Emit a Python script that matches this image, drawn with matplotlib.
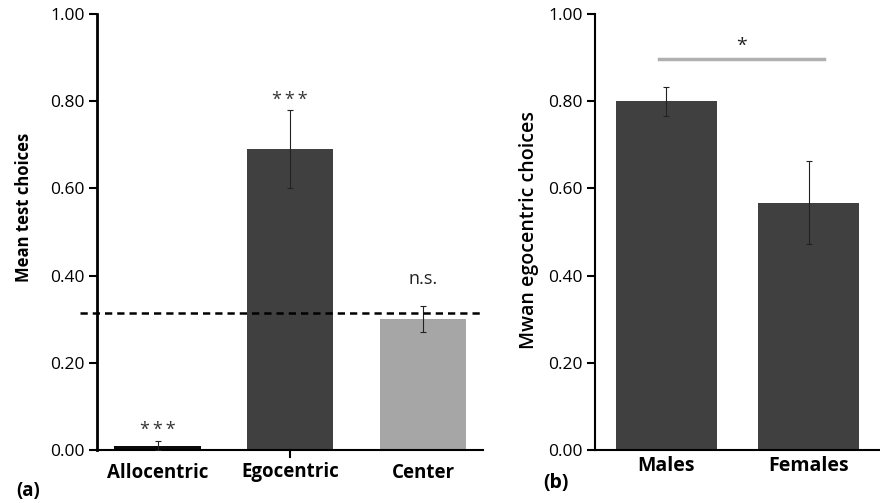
import numpy as np
import matplotlib.pyplot as plt

plt.rcParams['font.family'] = ['Open Sans', 'DejaVu Sans']

# panel (a)
cats_a = ['Allocentric', 'Egocentric', 'Center']
means_a = [0.01, 0.69, 0.30]
err_lo_a = [0.01, 0.09, 0.03]
err_hi_a = [0.01, 0.09, 0.03]
colors_a = ['#0a0a0a', '#404040', '#a6a6a6']
sig_a = ['***', '***', 'n.s.']
sig_a_pos = [0.053, 0.81, 0.392]
chance = 0.315

# panel (b)
cats_b = ['Males', 'Females']
means_b = [0.80, 0.567]
err_b = [0.033, 0.095]
sig_b = '*'
sig_b_level = 0.897

fig = plt.figure(figsize=(8.8, 5.03), dpi=100)
ticks_y = np.arange(0, 1.01, 0.2)

# ---- (a)
ax1 = fig.add_axes([97/880, 53/503, 386/880, 436/503])
x = np.arange(len(cats_a))
ax1.bar(x, means_a, 0.65, color=colors_a, zorder=2)
ax1.errorbar(x, means_a, yerr=[err_lo_a, err_hi_a], fmt='none', ecolor='#222222',
             elinewidth=0.8, capsize=2, capthick=0.8, zorder=3)
ax1.axhline(chance, xmin=-0.045, xmax=1.0, color='black', lw=1.8, ls=(0, (2.9, 2.0)),
            clip_on=False, zorder=4)
for i in range(len(cats_a)):
    if sig_a[i] == 'n.s.':
        ax1.text(x[i], sig_a_pos[i], sig_a[i], ha='center', va='center', fontsize=13, color='#222222')
    else:
        ax1.text(x[i], sig_a_pos[i] - 0.008, '\u2009'.join(sig_a[i]), ha='center', va='center',
                 fontsize=13, color='#333333')
ax1.set_xlim(-0.456, 2.452)
ax1.set_ylim(0, 1.0)
ax1.set_yticks(ticks_y)
ax1.set_yticklabels(['%.2f' % t for t in ticks_y])
ax1.set_xticks(x)
ax1.set_xticklabels(cats_a, fontsize=13.5, fontweight='bold')
ax1.set_ylabel('Mean test choices', fontsize=12, fontweight='bold')
ax1.yaxis.set_label_coords(-0.165, 0.557)
ax1.tick_params(axis='y', labelsize=12.5, length=6, width=1.5, direction='out', pad=3)
ax1.tick_params(axis='x', length=0, pad=9)
ax1.spines['top'].set_visible(False)
ax1.spines['right'].set_visible(False)
ax1.spines['left'].set_linewidth(2)
ax1.spines['bottom'].set_linewidth(1.5)
ax1.plot([1, 1], [0, -0.015], transform=ax1.get_xaxis_transform(), color='black',
         lw=1.5, clip_on=False)
fig.text(16/880, 1 - 491/503, '(a)', fontsize=13.5, fontweight='bold', va='center')

# ---- (b)
ax2 = fig.add_axes([595/880, 53/503, 285/880, 436/503])
xb = np.arange(len(cats_b))
ax2.bar(xb, means_b, 0.71, color='#404040', zorder=2)
ax2.errorbar(xb, means_b, yerr=err_b, fmt='none', ecolor='#222222',
             elinewidth=0.8, capsize=2, capthick=0.8, zorder=3)
ax2.plot([-0.05, 1.11], [sig_b_level, sig_b_level], color='#b0b0b0', lw=2.5)
ax2.text(0.53, 0.928, sig_b, ha='center', va='center', fontsize=14, color='#222222')
ax2.set_xlim(-0.5, 1.5)
ax2.set_ylim(0, 1.0)
ax2.set_yticks(ticks_y)
ax2.set_yticklabels(['%.2f' % t for t in ticks_y])
ax2.set_xticks(xb)
ax2.set_xticklabels(cats_b, fontsize=14, fontweight='bold')
ax2.set_ylabel('Mwan egocentric choices', fontsize=14, fontweight='semibold')
ax2.yaxis.set_label_coords(-0.196, 0.505)
ax2.tick_params(axis='y', labelsize=12.5, length=6, width=1.5, direction='out', pad=3)
ax2.tick_params(axis='x', length=0, pad=4)
ax2.spines['top'].set_visible(False)
ax2.spines['right'].set_visible(False)
ax2.spines['left'].set_linewidth(1.5)
ax2.spines['bottom'].set_linewidth(1.5)
fig.text(543/880, 1 - 483/503, '(b)', fontsize=14, fontweight='bold', va='center')

fig.savefig('out.png', dpi=100)
